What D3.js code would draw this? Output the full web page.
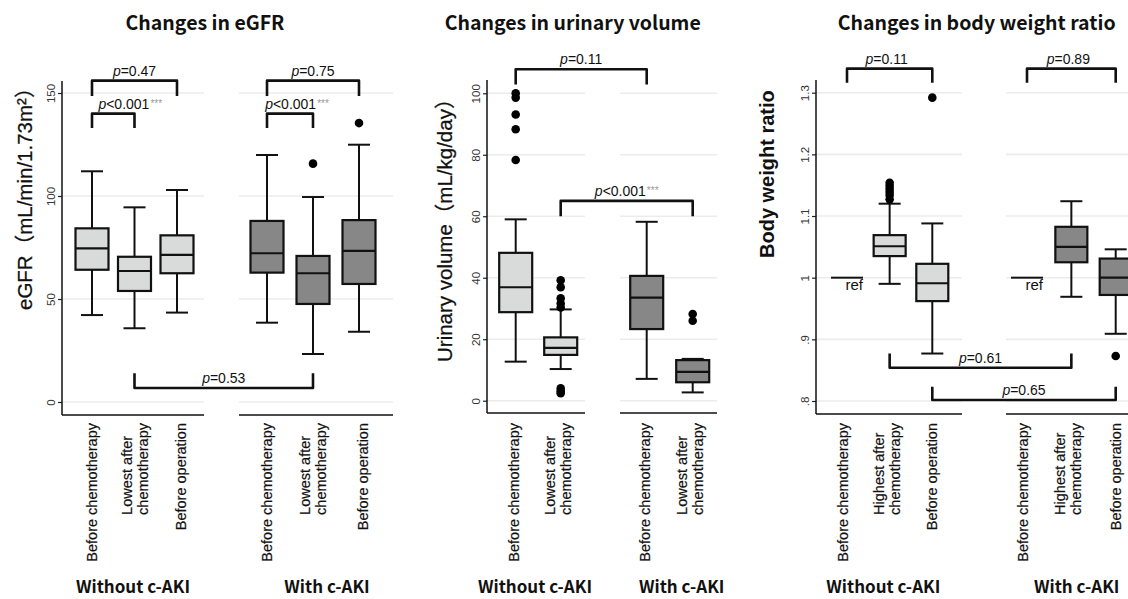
<!DOCTYPE html>
<html><head><meta charset="utf-8">
<script src="https://cdn.jsdelivr.net/npm/d3@7"></script>
<style>body{margin:0;background:#fff} svg{display:block}</style>
</head><body>
<svg id="chart" width="1128" height="599"></svg>
<script>
// ---------------- DATA ----------------
const groupNames = ["Without c-AKI", "With c-AKI"];

// eGFR: [lower whisker, Q1, median, Q3, upper whisker]
const egfrTitle = "Changes in eGFR";
const egfrYLabel = "eGFR\uFF08mL/min/1.73m\u00B2\uFF09";
const egfrCategories = [["Before chemotherapy"], ["Lowest after", "chemotherapy"], ["Before operation"]];
const egfrTicks = [0, 50, 100, 150];
const egfrTickLabels = ["0", "50", "100", "150"];
const egfrWithout = [[42.2, 64.2, 74.6, 84.3, 112.0], [35.8, 53.9, 63.6, 70.5, 94.5], [43.4, 62.5, 71.4, 80.9, 102.9]];
const egfrWith = [[38.5, 62.8, 72.2, 87.9, 119.9], [23.3, 47.6, 62.5, 70.9, 99.5], [34.1, 57.3, 73.4, 88.3, 124.9]];
const egfrOutliersWithout = [[], [], []];
const egfrOutliersWith = [[], [115.7], [135.4]];
const egfrBrackets = [
  {from: [0, 0], to: [0, 2], top: 156, leg: 148.5, op: "=", p: "0.47", stars: ""},
  {from: [0, 0], to: [0, 1], top: 140, leg: 133, op: "<", p: "0.001", stars: "***"},
  {from: [1, 0], to: [1, 2], top: 156, leg: 148.5, op: "=", p: "0.75", stars: ""},
  {from: [1, 0], to: [1, 1], top: 140, leg: 133, op: "<", p: "0.001", stars: "***"},
  {from: [0, 1], to: [1, 1], top: 6.8, leg: 14, op: "=", p: "0.53", stars: ""}
];

// Urinary volume
const urineTitle = "Changes in urinary volume";
const urineYLabel = "Urinary volume\uFF08mL/kg/day\uFF09";
const urineCategories = [["Before chemotherapy"], ["Lowest after", "chemotherapy"]];
const urineTicks = [0, 20, 40, 60, 80, 100];
const urineTickLabels = ["0", "20", "40", "60", "80", "100"];
const urineWithout = [[12.7, 28.8, 36.9, 48.1, 59.0], [10.3, 14.9, 17.2, 20.6, 29.7]];
const urineWith = [[7.1, 23.3, 33.5, 40.6, 58.2], [2.7, 6.0, 9.4, 13.2, 13.6]];
const urineOutliersWithout = [[100, 98.6, 93.1, 88.3, 78.3], [39.2, 36.9, 33.3, 31.6, 30.3, 4.0, 3.1, 2.4]];
const urineOutliersWith = [[], [28.2, 26.0]];
const urineBrackets = [
  {from: [0, 0], to: [1, 0], top: 107.8, leg: 102.9, op: "=", p: "0.11", stars: ""},
  {from: [0, 1], to: [1, 1], top: 65, leg: 60, op: "<", p: "0.001", stars: "***"}
];

// Body weight ratio (null = reference category fixed at 1)
const weightTitle = "Changes in body weight ratio";
const weightYLabel = "Body weight ratio";
const weightCategories = [["Before chemotherapy"], ["Highest after", "chemotherapy"], ["Before operation"]];
const weightTicks = [0.8, 0.9, 1.0, 1.1, 1.2, 1.3];
const weightTickLabels = [".8", ".9", "1", "1.1", "1.2", "1.3"];
const weightRef = 1.0;
const weightWithout = [null, [0.990, 1.035, 1.051, 1.069, 1.120], [0.877, 0.962, 0.991, 1.0225, 1.088]];
const weightWith = [null, [0.969, 1.025, 1.050, 1.0825, 1.124], [0.909, 0.972, 1.000, 1.031, 1.046]];
const weightOutliersWithout = [[], [1.154, 1.149, 1.144, 1.139, 1.134, 1.127], [1.292]];
const weightOutliersWith = [[], [], [0.873]];
const weightBrackets = [
  {from: [0, 0], to: [0, 2], top: 1.339, leg: 1.316, op: "=", p: "0.11", stars: ""},
  {from: [1, 0], to: [1, 2], top: 1.339, leg: 1.316, op: "=", p: "0.89", stars: ""},
  {from: [0, 1], to: [1, 1], top: 0.854, leg: 0.877, op: "=", p: "0.61", stars: ""},
  {from: [0, 2], to: [1, 2], top: 0.8016, leg: 0.823, op: "=", p: "0.65", stars: ""}
];

// ---------------- DRAWING ----------------
const svg = d3.select("#chart");
const SANS = "'Liberation Sans', Arial, 'Noto Sans CJK JP', sans-serif";
const JP = "'Noto Sans CJK JP', sans-serif";
const LIGHT = "#d9dbda", DARK = "#878787", INK = "#111";

function drawPanel(cfg) {
  const g = svg.append("g");
  const y = d3.scaleLinear().domain(cfg.domain).range(cfg.range);
  const xs = cfg.groups.map(gr => d3.scalePoint().domain(d3.range(cfg.categories.length)).range(gr.centers));
  const fills = [LIGHT, DARK];

  // gridlines
  cfg.groups.forEach(gr => {
    g.append("g").selectAll("line").data(cfg.ticks).join("line")
      .attr("x1", gr.x0).attr("x2", gr.x1)
      .attr("y1", d => y(d)).attr("y2", d => y(d))
      .attr("stroke", "#ececec").attr("stroke-width", 1.6);
  });

  // y axis
  const ax = g.append("g").attr("transform", `translate(${cfg.axisX},0)`)
    .call(d3.axisLeft(y).tickValues(cfg.ticks).tickSize(4).tickFormat((d, i) => cfg.tickLabels[i]));
  ax.select(".domain").remove();
  ax.selectAll(".tick line").attr("stroke", "#222").attr("stroke-width", 1.2);
  ax.selectAll(".tick text")
    .attr("x", null).attr("dy", null)
    .attr("text-anchor", "middle")
    .attr("transform", "translate(-7,0) rotate(-90)")
    .attr("font-family", SANS).attr("font-size", 11.5).attr("fill", "#333");
  g.append("line").attr("x1", cfg.axisX).attr("x2", cfg.axisX)
    .attr("y1", cfg.axisTop).attr("y2", cfg.baseY)
    .attr("stroke", INK).attr("stroke-width", 1.5);

  // x axis lines per group
  cfg.groups.forEach(gr => {
    g.append("line").attr("x1", gr.x0).attr("x2", gr.x1)
      .attr("y1", cfg.baseY).attr("y2", cfg.baseY)
      .attr("stroke", INK).attr("stroke-width", 1.5);
  });

  // boxes
  const bw = cfg.boxWidth, cw = 22;
  cfg.data.forEach((grp, gi) => {
    grp.forEach((s, ci) => {
      const cx = xs[gi](ci);
      const bg = g.append("g");
      if (s === null) {
        bg.append("line").attr("x1", cx - bw / 2).attr("x2", cx + bw / 2)
          .attr("y1", y(cfg.refValue)).attr("y2", y(cfg.refValue))
          .attr("stroke", INK).attr("stroke-width", 2);
        bg.append("text").attr("x", cx + bw / 2).attr("y", y(cfg.refValue) + 12)
          .attr("text-anchor", "end").attr("font-family", SANS).attr("font-size", 15)
          .attr("fill", INK).text("ref");
        return;
      }
      bg.append("line").attr("x1", cx).attr("x2", cx).attr("y1", y(s[0])).attr("y2", y(s[4]))
        .attr("stroke", INK).attr("stroke-width", 2);
      [s[0], s[4]].forEach(v => bg.append("line").attr("x1", cx - cw / 2).attr("x2", cx + cw / 2)
        .attr("y1", y(v)).attr("y2", y(v)).attr("stroke", INK).attr("stroke-width", 2));
      bg.append("rect").attr("x", cx - bw / 2).attr("width", bw)
        .attr("y", y(s[3])).attr("height", y(s[1]) - y(s[3]))
        .attr("fill", fills[gi]).attr("stroke", INK).attr("stroke-width", 2.2);
      bg.append("line").attr("x1", cx - bw / 2).attr("x2", cx + bw / 2)
        .attr("y1", y(s[2])).attr("y2", y(s[2])).attr("stroke", INK).attr("stroke-width", 2.2);
      bg.selectAll("circle").data(cfg.outliers[gi][ci]).join("circle")
        .attr("cx", cx).attr("cy", d => y(d)).attr("r", 4.3).attr("fill", "#000");
    });
  });

  // brackets
  cfg.brackets.forEach((b, i) => {
    const x1 = xs[b.from[0]](b.from[1]), x2 = xs[b.to[0]](b.to[1]);
    const yt = y(b.top), yl = y(b.leg);
    g.append("path").attr("d", `M${x1},${yl}V${yt}H${x2}V${yl}`)
      .attr("fill", "none").attr("stroke", INK).attr("stroke-width", 2.6)
      .attr("stroke-linejoin", "round");
    const t = g.append("text").attr("x", (x1 + x2) / 2 + (cfg.labelShift[i] || 0)).attr("y", yt - 5)
      .attr("text-anchor", "middle").attr("font-family", SANS).attr("font-size", 14).attr("fill", INK);
    t.append("tspan").attr("font-style", "italic").text("p");
    t.append("tspan").text(b.op + b.p);
    if (b.stars) t.append("tspan").attr("font-size", 10).attr("fill", "#999").attr("dy", -2).attr("dx", 1).text(b.stars);
  });

  // category labels (rotated)
  cfg.data.forEach((grp, gi) => {
    cfg.categories.forEach((lines, ci) => {
      const cx = xs[gi](ci) + (cfg.labelDx[ci] || 0);
      const lg = g.append("g").attr("transform", `translate(${cx},${cfg.labelTop}) rotate(-90)`);
      const n = lines.length, sp = 16;
      const texts = lines.map((ln, li) => lg.append("text")
        .attr("y", 5 + (li - (n - 1) / 2) * sp)
        .attr("font-family", SANS).attr("font-size", 14.5).attr("fill", INK)
        .attr("stroke", INK).attr("stroke-width", 0.2).text(ln));
      const maxW = d3.max(texts, t => t.node().getComputedTextLength());
      texts.forEach(t => t.attr("x", -maxW).attr("text-anchor", "start"));
    });
  });

  // group labels
  cfg.groups.forEach((gr, gi) => {
    g.append("text").attr("x", gr.labelX).attr("y", 593)
      .attr("text-anchor", "middle").attr("font-family", JP).attr("font-weight", 700)
      .attr("font-size", 17).attr("fill", INK).text(groupNames[gi]);
  });

  // title
  g.append("text").attr("x", cfg.titleX).attr("y", 29.5).attr("text-anchor", "middle")
    .attr("font-family", JP).attr("font-weight", 700).attr("font-size", 19.5).attr("fill", INK)
    .text(cfg.title);

  // y label
  g.append("text").attr("transform", `translate(${cfg.yLabelX},${cfg.yLabelBottom}) rotate(-90)`)
    .attr("text-anchor", "start").attr("font-family", SANS)
    .attr("font-weight", cfg.yLabelBold ? 700 : 400)
    .attr("stroke", cfg.yLabelBold ? "none" : INK).attr("stroke-width", 0.25)
    .attr("font-size", cfg.yLabelSize).attr("fill", INK).text(cfg.yLabel);
}

drawPanel({
  title: egfrTitle, titleX: 205, yLabel: egfrYLabel, yLabelX: 31.5, yLabelBottom: 310, yLabelSize: 20.5,
  domain: [0, 150], range: [402, 93], axisX: 62, axisTop: 81, baseY: 415,
  ticks: egfrTicks, tickLabels: egfrTickLabels, categories: egfrCategories,
  groups: [{x0: 62, x1: 204, centers: [92, 177], labelX: 133}, {x0: 239, x1: 393, centers: [267, 359], labelX: 327}],
  boxWidth: 33, data: [egfrWithout, egfrWith], outliers: [egfrOutliersWithout, egfrOutliersWith],
  brackets: egfrBrackets, labelShift: [0, 17, 0, 7, 0], labelTop: 423, labelDx: [0, 0, 4]
});
drawPanel({
  title: urineTitle, titleX: 572.7, yLabel: urineYLabel, yLabelX: 451.5, yLabelBottom: 362, yLabelSize: 20.5,
  domain: [0, 100], range: [400.7, 93.3], axisX: 487, axisTop: 80, baseY: 413,
  ticks: urineTicks, tickLabels: urineTickLabels, categories: urineCategories,
  groups: [{x0: 487, x1: 585, centers: [515.7, 560.7], labelX: 535}, {x0: 620, x1: 717, centers: [646.7, 692.7], labelX: 681.7}],
  boxWidth: 33, data: [urineWithout, urineWith], outliers: [urineOutliersWithout, urineOutliersWith],
  brackets: urineBrackets, labelShift: [0, 0], labelTop: 423, labelDx: [-2, -3]
});
drawPanel({
  title: weightTitle, titleX: 976.7, yLabel: weightYLabel, yLabelX: 774.3, yLabelBottom: 258, yLabelSize: 20, yLabelBold: true,
  domain: [0.8, 1.3], range: [401, 92.7], axisX: 816, axisTop: 80, baseY: 414,
  ticks: weightTicks, tickLabels: weightTickLabels, categories: weightCategories, refValue: weightRef,
  groups: [{x0: 816, x1: 962, centers: [847, 932.3], labelX: 883.3}, {x0: 1006, x1: 1140, centers: [1027, 1115.7], labelX: 1076.7}],
  boxWidth: 32, data: [weightWithout, weightWith], outliers: [weightOutliersWithout, weightOutliersWith],
  brackets: weightBrackets, labelShift: [-3, -3, 0, 0], labelTop: 423, labelDx: [-4, -3, 0]
});
</script>
</body></html>
